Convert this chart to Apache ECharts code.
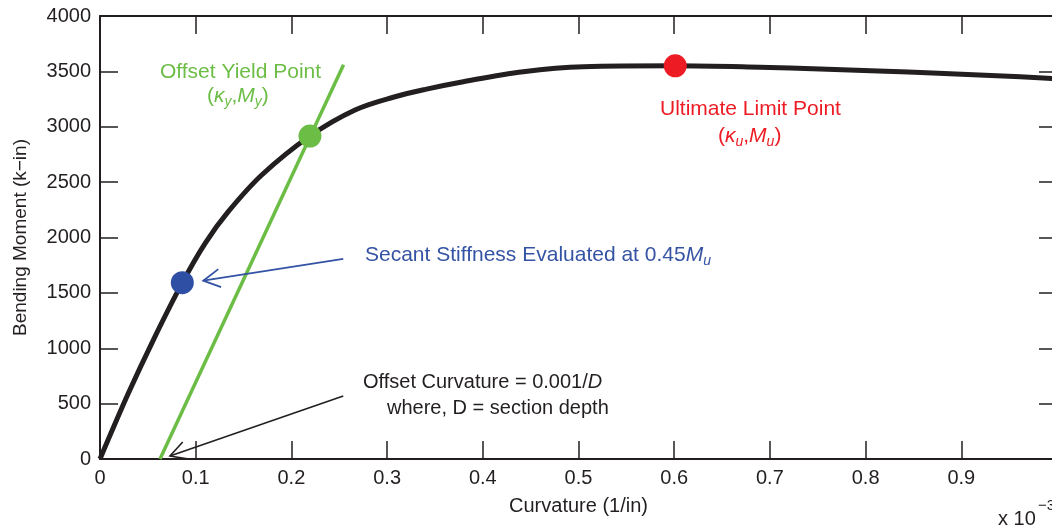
<!DOCTYPE html>
<html>
<head>
<meta charset="utf-8">
<script src="https://cdn.jsdelivr.net/npm/echarts@6/dist/echarts.min.js"></script>
<style>
  html, body { margin: 0; padding: 0; background: #fff; }
  #chart { width: 1052px; height: 531px; }
</style>
</head>
<body>
<div id="chart"></div>
<script>
// moment-curvature curve (curvature in 1e-3 1/in, moment in k-in)
const curvature = [0, 0.0296, 0.0557, 0.086, 0.11, 0.134, 0.169, 0.2194, 0.2665, 0.3083, 0.34, 0.3796, 0.4423, 0.505, 0.6011, 0.6897, 0.7524, 0.8133, 0.876, 0.937, 1.0];
const moment = [0, 593, 1074, 1592, 1950, 2233, 2564, 2916, 3151, 3271, 3338, 3407, 3497, 3542, 3550, 3537, 3521, 3503, 3483, 3461, 3433];

// offset line (yield)
const offsetX = [0.0627, 0.2545];
const offsetY = [0, 3560];

// key points: secant, yield, ultimate
const pointX = [0.086, 0.2194, 0.6011];
const pointY = [1592, 2916, 3550];
const pointColor = ['#2e4fa3', '#6cbd45', '#ed1c24'];

// annotation arrows [x1, y1, x2, y2] tail -> tip
const arrows = [
  [0.2542, 1806, 0.1079, 1610, '#3553a4', 1.8],
  [0.2542, 569, 0.0731, 27, '#231f20', 1.6]
];

const xTicks = [0, 0.1, 0.2, 0.3, 0.4, 0.5, 0.6, 0.7, 0.8, 0.9];

const ink = '#231f20';
const font = 'Liberation Sans, Arial, sans-serif';

const chart = echarts.init(document.getElementById('chart'));

const tickStyle = { inside: true, length: 18, lineStyle: { color: ink, width: 1.5 } };
const lineAxis = { onZero: false, lineStyle: { color: ink, width: 2 } };

chart.setOption({
  animation: false,
  grid: { left: 100, top: 16, width: 957, height: 443, outerBoundsMode: 'none' },
  xAxis: [
    {
      type: 'value', min: 0, max: 1, interval: 0.1, position: 'bottom',
      axisLine: lineAxis, axisTick: tickStyle, splitLine: { show: false },
      axisLabel: {
        color: ink, fontSize: 20, fontFamily: font, margin: 9,
        formatter: v => {
          const r = Math.round(v * 10) / 10;
          return xTicks.indexOf(r) >= 0 ? String(r) : '';
        }
      },
      name: 'Curvature (1/in)', nameLocation: 'middle', nameGap: 37,
      nameTextStyle: { color: ink, fontSize: 20, fontFamily: font }
    },
    {
      type: 'value', min: 0, max: 1, interval: 0.1, position: 'top',
      axisLine: lineAxis, axisTick: tickStyle, splitLine: { show: false },
      axisLabel: { show: false }
    }
  ],
  yAxis: [
    {
      type: 'value', min: 0, max: 4000, interval: 500, position: 'left',
      axisLine: lineAxis, axisTick: tickStyle, splitLine: { show: false },
      axisLabel: { color: ink, fontSize: 20, fontFamily: font, margin: 9, formatter: v => String(v) },
      name: 'Bending Moment (k\u2212in)', nameLocation: 'middle', nameGap: 70,
      nameTextStyle: { color: ink, fontSize: 19, fontFamily: font }
    },
    {
      type: 'value', min: 0, max: 4000, interval: 500, position: 'right',
      axisLine: lineAxis, axisTick: tickStyle, splitLine: { show: false },
      axisLabel: { show: false }
    }
  ],
  series: [
    {
      type: 'line', name: 'offset', symbol: 'none', z: 2,
      lineStyle: { color: '#6cbd45', width: 3.5 },
      data: offsetX.map((x, i) => [x, offsetY[i]])
    },
    {
      type: 'line', name: 'curve', symbol: 'none', smooth: 0.35, z: 3,
      lineStyle: { color: ink, width: 5 },
      data: curvature.map((x, i) => [x, moment[i]])
    },
    {
      type: 'custom', name: 'arrows', z: 4,
      renderItem: (params, api) => {
        const a = api.coord([api.value(0), api.value(1)]);
        const b = api.coord([api.value(2), api.value(3)]);
        const d = arrows[params.dataIndex];
        const ang = Math.atan2(a[1] - b[1], a[0] - b[0]);
        const len = 19, spread = 0.5;
        const h1 = [b[0] + len * Math.cos(ang + spread), b[1] + len * Math.sin(ang + spread)];
        const h2 = [b[0] + len * Math.cos(ang - spread), b[1] + len * Math.sin(ang - spread)];
        const st = { stroke: d[4], lineWidth: d[5], fill: null };
        return {
          type: 'group',
          children: [
            { type: 'line', shape: { x1: a[0], y1: a[1], x2: b[0], y2: b[1] }, style: st },
            { type: 'polyline', shape: { points: [h1, b, h2] }, style: st }
          ]
        };
      },
      data: arrows.map(r => r.slice(0, 4))
    },
    {
      type: 'scatter', name: 'points', symbolSize: 23, z: 5,
      data: pointX.map((x, i) => ({ value: [x, pointY[i]], itemStyle: { color: pointColor[i], opacity: 1 } }))
    }
  ],
  graphic: [
    {
      type: 'text', left: 160, top: 62,
      style: { text: 'Offset Yield Point', font: '21px ' + font, fill: '#6cbd45' }
    },
    {
      type: 'text', left: 207, top: 86,
      style: {
        text: '{n|(}{i|\u03ba}{s|y}{n|,}{i|M}{s|y}{n|)}',
        rich: {
          n: { fontSize: 21, fontFamily: font, lineHeight: 26, fill: '#6cbd45' },
          i: { fontSize: 21, fontFamily: font, fontStyle: 'italic', lineHeight: 26, fill: '#6cbd45' },
          s: { fontSize: 14, fontFamily: font, fontStyle: 'italic', lineHeight: 14, verticalAlign: 'bottom', fill: '#6cbd45' }
        }
      }
    },
    {
      type: 'text', left: 660, top: 99,
      style: { text: 'Ultimate Limit Point', font: '21px ' + font, fill: '#ed1c24' }
    },
    {
      type: 'text', left: 718, top: 126,
      style: {
        text: '{n|(}{i|\u03ba}{s|u}{n|,}{i|M}{s|u}{n|)}',
        rich: {
          n: { fontSize: 21, fontFamily: font, lineHeight: 26, fill: '#ed1c24' },
          i: { fontSize: 21, fontFamily: font, fontStyle: 'italic', lineHeight: 26, fill: '#ed1c24' },
          s: { fontSize: 14, fontFamily: font, fontStyle: 'italic', lineHeight: 14, verticalAlign: 'bottom', fill: '#ed1c24' }
        }
      }
    },
    {
      type: 'text', left: 365, top: 245,
      style: {
        text: '{n|Secant Stiffness Evaluated at 0.45}{i|M}{s|u}',
        rich: {
          n: { fontSize: 21, fontFamily: font, lineHeight: 26, fill: '#3553a4' },
          i: { fontSize: 21, fontFamily: font, fontStyle: 'italic', lineHeight: 26, fill: '#3553a4' },
          s: { fontSize: 14, fontFamily: font, fontStyle: 'italic', lineHeight: 14, verticalAlign: 'bottom', fill: '#3553a4' }
        }
      }
    },
    {
      type: 'text', left: 363, top: 372,
      style: {
        text: '{n|Offset Curvature = 0.001/}{i|D}',
        rich: {
          n: { fontSize: 20, fontFamily: font, lineHeight: 26, fill: ink },
          i: { fontSize: 20, fontFamily: font, fontStyle: 'italic', lineHeight: 26, fill: ink }
        }
      }
    },
    {
      type: 'text', left: 387, top: 398,
      style: { text: 'where, D = section depth', font: '20px ' + font, fill: ink }
    },
    {
      type: 'text', left: 998, top: 509,
      style: { text: 'x 10', font: '20px ' + font, fill: ink }
    },
    {
      type: 'text', left: 1038, top: 498,
      style: { text: '\u22123', font: '15px ' + font, fill: ink }
    }
  ]
});
</script>
</body>
</html>
